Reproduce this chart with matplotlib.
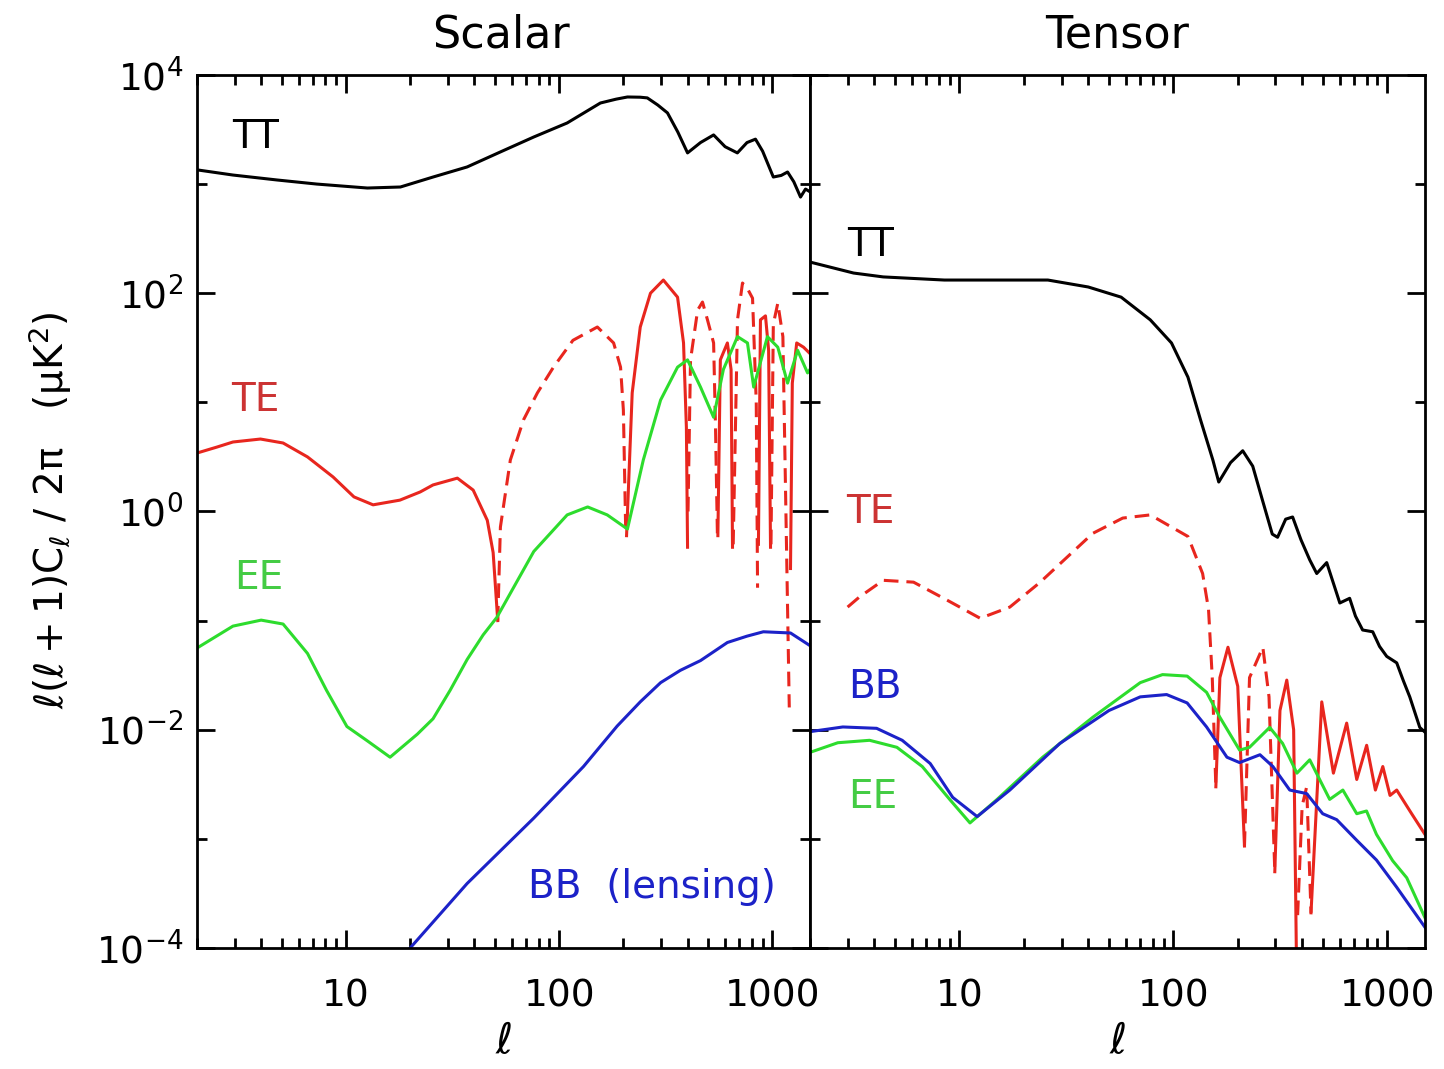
import numpy as np
import matplotlib.pyplot as plt
from matplotlib.ticker import FixedLocator, FuncFormatter, NullFormatter

plt.rcParams['font.family'] = ['DejaVu Sans']
plt.rcParams['mathtext.default'] = 'regular'

# ---- scalar panel ----
s_tt_l = [2, 2.95, 4.75, 7.3, 12.6, 18, 25.6, 37, 53, 76, 109, 156, 185, 209, 240, 259, 290,
          322, 360, 400, 460, 530, 600, 685, 760, 833, 900, 1010, 1100, 1178, 1260, 1355, 1430,
          1500]
s_tt = [1350, 1210, 1090, 1000, 920, 940, 1160, 1435, 1970, 2700, 3630, 5530, 6000, 6280, 6250,
        6160, 5300, 4490, 3000, 1930, 2400, 2820, 2200, 1930, 2400, 2580, 2000, 1160, 1200, 1290,
        1050, 760, 900, 850]

# signed TE: positive drawn solid, negative dashed
s_te_l = [2, 2.48, 2.95, 3.97, 5.07, 6.6, 8.7, 10.9, 13.4, 17.9, 22.3, 25.6, 33.3, 39.5, 46, 49,
          51.5,
          51.5, 53, 59, 68, 79, 94, 116, 151, 180, 194, 200, 205,
          207, 220, 240, 268, 308, 359, 383, 395, 400,
          402, 413, 446, 470, 496, 530, 541, 552,
          555, 570, 615, 640, 650,
          655, 686, 724, 764, 807, 840, 852,
          860, 879, 928, 960, 980,
          985, 1010, 1060, 1120, 1200,
          1216, 1240, 1300, 1400, 1500]
s_te = [3.43, 3.89, 4.33, 4.61, 4.24, 3.16, 2.07, 1.36, 1.15, 1.27, 1.51, 1.75, 2.02, 1.57, 0.83,
        0.42, 0.1,
        -0.1, -0.72, -2.96, -6.9, -12.2, -21, -37, -49, -35, -21, -8.5, -0.7,
        0.6, 12.2, 49, 100, 132, 92, 35, 5.9, 0.47,
        -1.0, -24.5, -70, -83, -57, -35, -5.9, -0.63,
        0.6, 24.5, 35, 20, 0.47,
        -0.5, -57, -124, -110, -90, -10, -0.2,
        0.5, 57, 62, 30, 0.47,
        -0.5, -52, -81, -40, -0.016,
        0.3, 15, 35, 32, 28]

s_ee_l = [2, 2.95, 4, 5.07, 6.6, 8.1, 10.1, 12.6, 16.1, 21.6, 25.6, 30.8, 37, 44, 51, 76, 109,
          136, 168, 209, 248, 299, 359, 400, 460, 530, 589, 686, 764, 817, 948, 1060, 1178, 1313,
          1462, 1500]
s_ee = [0.056, 0.089, 0.101, 0.093, 0.050, 0.023, 0.0107, 0.0079, 0.0056, 0.0091, 0.0126, 0.023,
        0.044, 0.074, 0.107, 0.43, 0.93, 1.1, 0.93, 0.69, 2.96, 10.5, 21, 24.5, 13.8, 7.3, 20, 40,
        35, 13.8, 40, 32, 15, 30, 18.6, 20]

s_bb_l = [19, 20, 37, 76, 130, 187, 240, 299, 370, 460, 615, 760, 907, 1216, 1500]
s_bb = [9e-5, 1e-4, 3.9e-4, 1.55e-3, 4.6e-3, 0.0108, 0.018, 0.027, 0.035, 0.043, 0.063, 0.072,
        0.079, 0.077, 0.059]

# ---- tensor panel ----
t_tt_l = [2, 3.2, 4.4, 8.5, 25.9, 40, 57, 78, 98, 117, 134, 153, 163, 185, 211, 235, 260, 290,
          307, 335, 361, 395, 434, 468, 521, 560, 600, 667, 710, 767, 855, 920, 994, 1107, 1190,
          1274, 1419, 1500]
t_tt = [193, 153, 141, 132, 132, 114, 92, 57, 35, 17, 6.9, 2.96, 1.86, 2.8, 3.6, 2.6, 1.3, 0.62,
        0.58, 0.85, 0.89, 0.55, 0.36, 0.27, 0.34, 0.22, 0.145, 0.16, 0.11, 0.082, 0.079, 0.058,
        0.047, 0.041, 0.028, 0.020, 0.0105, 0.0095]

t_te_l = [3, 3.4, 4.4, 6.1, 8.7, 12.5, 17.2, 23.8, 31.8, 42, 58, 78, 117, 137, 146, 152, 158,
          158, 165, 180, 200, 215,
          215, 227, 262, 280, 298,
          298, 315, 339, 365, 381,
          381, 400, 420, 440,
          440, 494, 560, 646, 720, 801, 880, 953, 1030, 1107, 1300, 1500]
t_te = [-0.133, -0.164, -0.234, -0.225, -0.155, -0.105, -0.133, -0.224, -0.38, -0.63, -0.87,
        -0.93, -0.59, -0.27, -0.127, -0.03, -0.003,
        0.003, 0.03, 0.057, 0.025, 8.6e-4,
        -8.6e-4, -0.03, -0.057, -0.02, -5e-4,
        5e-4, 0.015, 0.0285, 0.01, 1e-5,
        -2e-4, -0.002, -0.003, -2.1e-4,
        2.1e-4, 0.018, 0.004, 0.0115, 0.0035, 0.0072, 0.0028, 0.0046, 0.0025, 0.0028, 0.0017,
        0.0011]

t_ee_l = [2, 2.7, 3.8, 5.1, 6.7, 9.0, 11.2, 15.0, 24.5, 42, 70, 89, 116, 143, 165, 204, 227,
          282, 324, 378, 434, 538, 620, 720, 800, 890, 1060, 1233, 1500]
t_ee = [0.0062, 0.0076, 0.0080, 0.0069, 0.0046, 0.0023, 0.0014, 0.0023, 0.0056, 0.013, 0.027,
        0.032, 0.031, 0.022, 0.013, 0.0065, 0.0069, 0.0105, 0.0075, 0.004, 0.0053, 0.0023,
        0.0028, 0.0017, 0.0018, 0.0011, 6.3e-4, 4.4e-4, 1.9e-4]

t_bb_l = [2, 2.85, 4.1, 5.4, 7.3, 9.3, 12.1, 17.2, 29.5, 50, 70, 93, 116, 143, 178, 204, 254,
          292, 350, 420, 499, 580, 720, 890, 1107, 1500]
t_bb = [0.0096, 0.0106, 0.0103, 0.008, 0.0049, 0.0024, 0.0016, 0.0028, 0.0075, 0.015, 0.020,
        0.021, 0.0176, 0.0106, 0.0056, 0.005, 0.0059, 0.0046, 0.0028, 0.0026, 0.0017, 0.0015,
        9.7e-4, 6.4e-4, 3.6e-4, 1.55e-4]

BLACK = 'black'
RED = '#e8261e'
GREEN = '#2ddc2d'
BLUE = '#1c22c8'
LW = 2.2


def plot_signed(ax, ell, vals, color):
    # split into runs of constant sign: + solid, - dashed
    ell = np.asarray(ell, float)
    vals = np.asarray(vals, float)
    sign = np.sign(vals)
    start = 0
    for i in range(1, len(vals) + 1):
        if i == len(vals) or sign[i] != sign[start]:
            seg_l = ell[start:i]
            seg_v = np.abs(vals[start:i])
            if sign[start] > 0:
                ax.plot(seg_l, seg_v, color=color, lw=LW)
            else:
                ax.plot(seg_l, seg_v, color=color, lw=LW, dashes=(4.8, 2.6))
            start = i


def style(ax, left_labels):
    ax.set_xscale('log')
    ax.set_yscale('log')
    ax.set_xlim(2, 1500)
    ax.set_ylim(1e-4, 1e4)
    ax.xaxis.set_major_locator(FixedLocator([10, 100, 1000]))
    ax.xaxis.set_minor_locator(FixedLocator([m * d for d in (1, 10, 100) for m in range(2, 10)]))
    ax.xaxis.set_major_formatter(FuncFormatter(lambda v, p: '%d' % v))
    ax.xaxis.set_minor_formatter(NullFormatter())
    ax.yaxis.set_major_locator(FixedLocator([1e-4, 1e-2, 1, 1e2, 1e4]))
    ax.yaxis.set_minor_locator(FixedLocator([1e-3, 1e-1, 10, 1e3]))
    ax.yaxis.set_major_formatter(FuncFormatter(lambda v, p: r'$10^{%d}$' % round(np.log10(v))))
    ax.yaxis.set_minor_formatter(NullFormatter())
    ax.tick_params(which='both', direction='in', top=True, right=True, width=2,
                   labelsize=27, labelleft=left_labels)
    ax.tick_params(axis='x', which='both', pad=22)
    ax.tick_params(axis='y', which='both', pad=10)
    ax.tick_params(which='major', length=13)
    ax.tick_params(which='minor', length=7)
    for sp in ax.spines.values():
        sp.set_linewidth(2)
    ax.set_xlabel(r'$\ell$', fontsize=30, labelpad=4)


fig = plt.figure(figsize=(14.44, 10.69), dpi=100)
ax1 = fig.add_axes([0.1364, 0.1132, 0.4245, 0.8167])
ax2 = fig.add_axes([0.5609, 0.1132, 0.4259, 0.8167])

# scalar
ax1.plot(s_tt_l, s_tt, color=BLACK, lw=LW)
plot_signed(ax1, s_te_l, s_te, RED)
ax1.plot(s_ee_l, s_ee, color=GREEN, lw=LW)
ax1.plot(s_bb_l, s_bb, color=BLUE, lw=LW)
style(ax1, True)

# tensor
ax2.plot(t_tt_l, t_tt, color=BLACK, lw=LW)
plot_signed(ax2, t_te_l, t_te, RED)
ax2.plot(t_ee_l, t_ee, color=GREEN, lw=LW)
ax2.plot(t_bb_l, t_bb, color=BLUE, lw=LW)
style(ax2, False)

lab = dict(fontsize=28, ha='center', va='center')
ax1.text(0.095, 0.929, 'TT', color=BLACK, transform=ax1.transAxes, **lab)
ax1.text(0.095, 0.628, 'TE', color='#cc3333', transform=ax1.transAxes, **lab)
ax1.text(0.100, 0.424, 'EE', color='#44cc44', transform=ax1.transAxes, **lab)
ax1.text(0.742, 0.070, 'BB  (lensing)', color=BLUE, transform=ax1.transAxes, **lab)
ax2.text(0.098, 0.805, 'TT', color=BLACK, transform=ax2.transAxes, **lab)
ax2.text(0.098, 0.499, 'TE', color='#cc3333', transform=ax2.transAxes, **lab)
ax2.text(0.106, 0.299, 'BB', color=BLUE, transform=ax2.transAxes, **lab)
ax2.text(0.102, 0.173, 'EE', color='#44cc44', transform=ax2.transAxes, **lab)

fig.text(0.347, 0.967, 'Scalar', fontsize=32, ha='center', va='center')
fig.text(0.7735, 0.967, 'Tensor', fontsize=32, ha='center', va='center')
fig.text(0.035, 0.523, r'$\ell(\ell+1)C_\ell\ /\ 2\pi\quad(\mu K^2)$', fontsize=28,
         rotation=90, ha='center', va='center')

fig.savefig('out.png', dpi=100)
